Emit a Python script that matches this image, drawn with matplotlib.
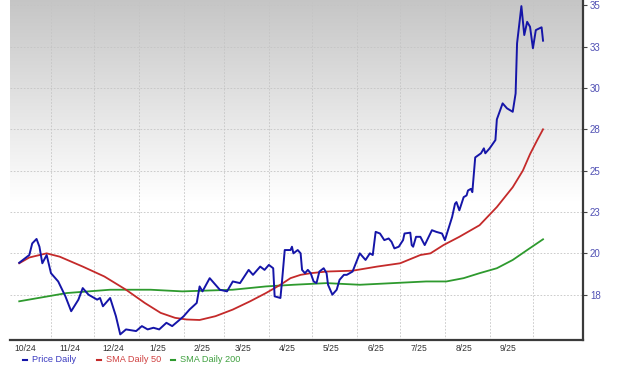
import matplotlib
matplotlib.use("Agg")
import matplotlib.pyplot as plt
import numpy as np
import pandas as pd
from matplotlib.lines import Line2D

BASE = "2024-10-01"  # day offsets below count from this date

price_day = [9, 16, 18, 21, 23, 25, 28, 31, 36, 41, 45, 50, 53, 57, 63, 65, 67, 72, 76, 79,
             83, 90, 94, 98, 102, 106, 111, 115, 120, 123, 127, 132, 134, 136, 141, 145, 148,
             153, 157, 162, 168, 171, 176, 179, 182, 185, 186, 190, 191, 193, 197, 198, 199,
             202, 204, 205, 207, 209, 211, 213, 215, 217, 220, 222, 223, 226, 229, 231, 234,
             236, 238, 240, 245, 249, 252, 254, 256, 259, 262, 265, 267, 269, 272, 275, 276,
             280, 281, 282, 284, 287, 290, 295, 298, 302, 304, 309, 311, 312, 314, 317, 319,
             320, 322, 323, 325, 329, 331, 332, 335, 339, 340, 344, 347, 351, 353, 354, 357,
             359, 361, 363, 365, 367, 371, 372]
price_val = [19.43, 19.9, 20.6, 20.87, 20.4, 19.4, 19.9, 18.8, 18.3, 17.4, 16.5, 17.2, 17.9,
             17.5, 17.2, 17.3, 16.8, 17.3, 16.2, 15.1, 15.4, 15.3, 15.6, 15.4, 15.5, 15.4, 15.8,
             15.6, 15.97, 16.2, 16.6, 17.0, 18.0, 17.7, 18.5, 18.1, 17.8, 17.7, 18.3, 18.2, 19.0,
             18.7, 19.2, 19.0, 19.3, 19.1, 17.4, 17.3, 18.2, 20.2, 20.2, 20.4, 20.0, 20.2, 20.0,
             19.0, 18.8, 19.0, 18.8, 18.3, 18.2, 18.9, 19.1, 18.8, 18.1, 17.5, 17.8, 18.4, 18.7,
             18.7, 18.8, 18.9, 20.0, 19.6, 20.0, 19.9, 21.3, 21.2, 20.8, 20.9, 20.7, 20.3, 20.4,
             20.8, 21.2, 21.25, 20.5, 20.4, 21.0, 21.0, 20.5, 21.4, 21.3, 21.2, 20.8, 22.2, 23.0,
             23.1, 22.6, 23.4, 23.5, 23.8, 23.9, 23.7, 25.8, 26.05, 26.35, 26.05, 26.35, 26.85,
             28.1, 29.07, 28.77, 28.56, 29.67, 32.7, 34.95, 33.2, 34.0, 33.7, 32.4, 33.5, 33.67,
             32.86]

sma50_day = [9, 16, 28, 37, 53, 68, 83, 96, 107, 117, 125, 134, 145, 157, 169, 180, 190, 197,
             204, 211, 222, 240, 257, 273, 287, 294, 303, 314, 328, 340, 351, 358, 363, 368, 372]
sma50_val = [19.4, 19.75, 20.0, 19.8, 19.2, 18.6, 17.8, 17.0, 16.4, 16.1, 16.0, 15.97, 16.2,
             16.6, 17.1, 17.6, 18.1, 18.5, 18.7, 18.8, 18.9, 18.95, 19.2, 19.4, 19.9, 20.0, 20.5,
             21.0, 21.7, 22.8, 24.0, 25.0, 26.0, 26.85, 27.5]

sma200_day = [9, 42, 72, 100, 122, 157, 180, 199, 222, 245, 268, 291, 305, 317, 328, 340, 351,
              361, 372]
sma200_val = [17.1, 17.6, 17.8, 17.8, 17.7, 17.8, 18.0, 18.1, 18.2, 18.1, 18.2, 18.3, 18.3,
              18.5, 18.8, 19.1, 19.6, 20.2, 20.85]

month_labels = ["10/24", "11/24", "12/24", "1/25", "2/25", "3/25", "4/25", "5/25", "6/25",
                "7/25", "8/25", "9/25"]
y_ticks = [17.5, 20, 22.5, 25, 27.5, 30, 32.5, 35]
y_tick_labels = ["18", "20", "23", "25", "28", "30", "33", "35"]


def to_dates(days):
    return pd.Timestamp(BASE) + pd.to_timedelta(np.asarray(days, dtype=float), unit="D")


W, H = 620, 367
fig = plt.figure(figsize=(W / 100, H / 100), dpi=100)
ax = fig.add_axes([10 / W, 27 / H, 573 / W, 340 / H])

# background gradient (grey top -> white lower)
f = np.linspace(0, 1, 300)[:, None]  # 0 bottom .. 1 top
g = np.where(f < 0.41, 1.0, 1.0 - 0.225 * (f - 0.41) / 0.59)
img = np.dstack([g, g, g])
ax.imshow(img, extent=[0, 1, 0, 1], transform=ax.transAxes, origin="lower",
          aspect="auto", zorder=0, interpolation="bilinear")

ax.plot(to_dates(sma200_day), sma200_val, color="#2e9a2e", lw=1.3, zorder=3)
ax.plot(to_dates(sma50_day), sma50_val, color="#c42a2a", lw=1.3, zorder=3)
ax.plot(to_dates(price_day), price_val, color="#1515a8", lw=1.4, zorder=4)

ax.set_xlim(to_dates([2.6])[0], to_dates([399.7])[0])
ax.set_ylim(14.76, 35.32)

# x axis: gridlines at month starts, labels mid-month
month_starts = pd.date_range("2024-11-01", "2025-10-01", freq="MS")
label_pos = pd.date_range("2024-10-01", "2025-09-01", freq="MS") + pd.Timedelta(days=13)
ax.set_xticks(month_starts)
ax.set_xticklabels([])
ax.set_xticks(label_pos, minor=True)
ax.set_xticklabels(month_labels, minor=True)
ax.tick_params(axis="x", which="both", length=0)
ax.tick_params(axis="x", which="minor", pad=3, labelsize=6.2, labelcolor="#333333")
for t in ax.get_xticklabels(minor=True):
    t.set_fontfamily("Liberation Sans")

ax.yaxis.tick_right()
ax.set_yticks(y_ticks)
ax.set_yticklabels(y_tick_labels)
ax.tick_params(axis="y", length=3, width=0.8, color="#444444", pad=2, labelsize=7,
               labelcolor="#5050b4")
for t in ax.get_yticklabels():
    t.set_fontfamily("Liberation Sans")

ax.grid(True, which="major", color="#c4c4c4", lw=0.6, ls=(0, (2, 2)), zorder=1)
ax.set_axisbelow(False)
for gl in ax.get_xgridlines() + ax.get_ygridlines():
    gl.set_zorder(1)

for s in ("left", "top"):
    ax.spines[s].set_visible(False)
for s in ("right", "bottom"):
    ax.spines[s].set_color("#3a3a3a")
    ax.spines[s].set_linewidth(1.6)
    ax.spines[s].set_zorder(5)

# legend
ly = 1 - 360 / H
items = [("Price Daily", "#1515a8", "#3b3bc0", 22.5, 31.5),
         ("SMA Daily 50", "#c42a2a", "#d04040", 97, 106),
         ("SMA Daily 200", "#2e9a2e", "#3fa03f", 170.5, 180)]
for label, lc, tc, dx, tx in items:
    fig.add_artist(Line2D([dx / W, (dx + 4.5) / W], [ly, ly], color=lc, lw=1.5,
                          transform=fig.transFigure))
    fig.text(tx / W, ly, label, color=tc, fontsize=6.6, va="center", ha="left",
             family="Liberation Sans")

fig.savefig("out.png", dpi=100)
